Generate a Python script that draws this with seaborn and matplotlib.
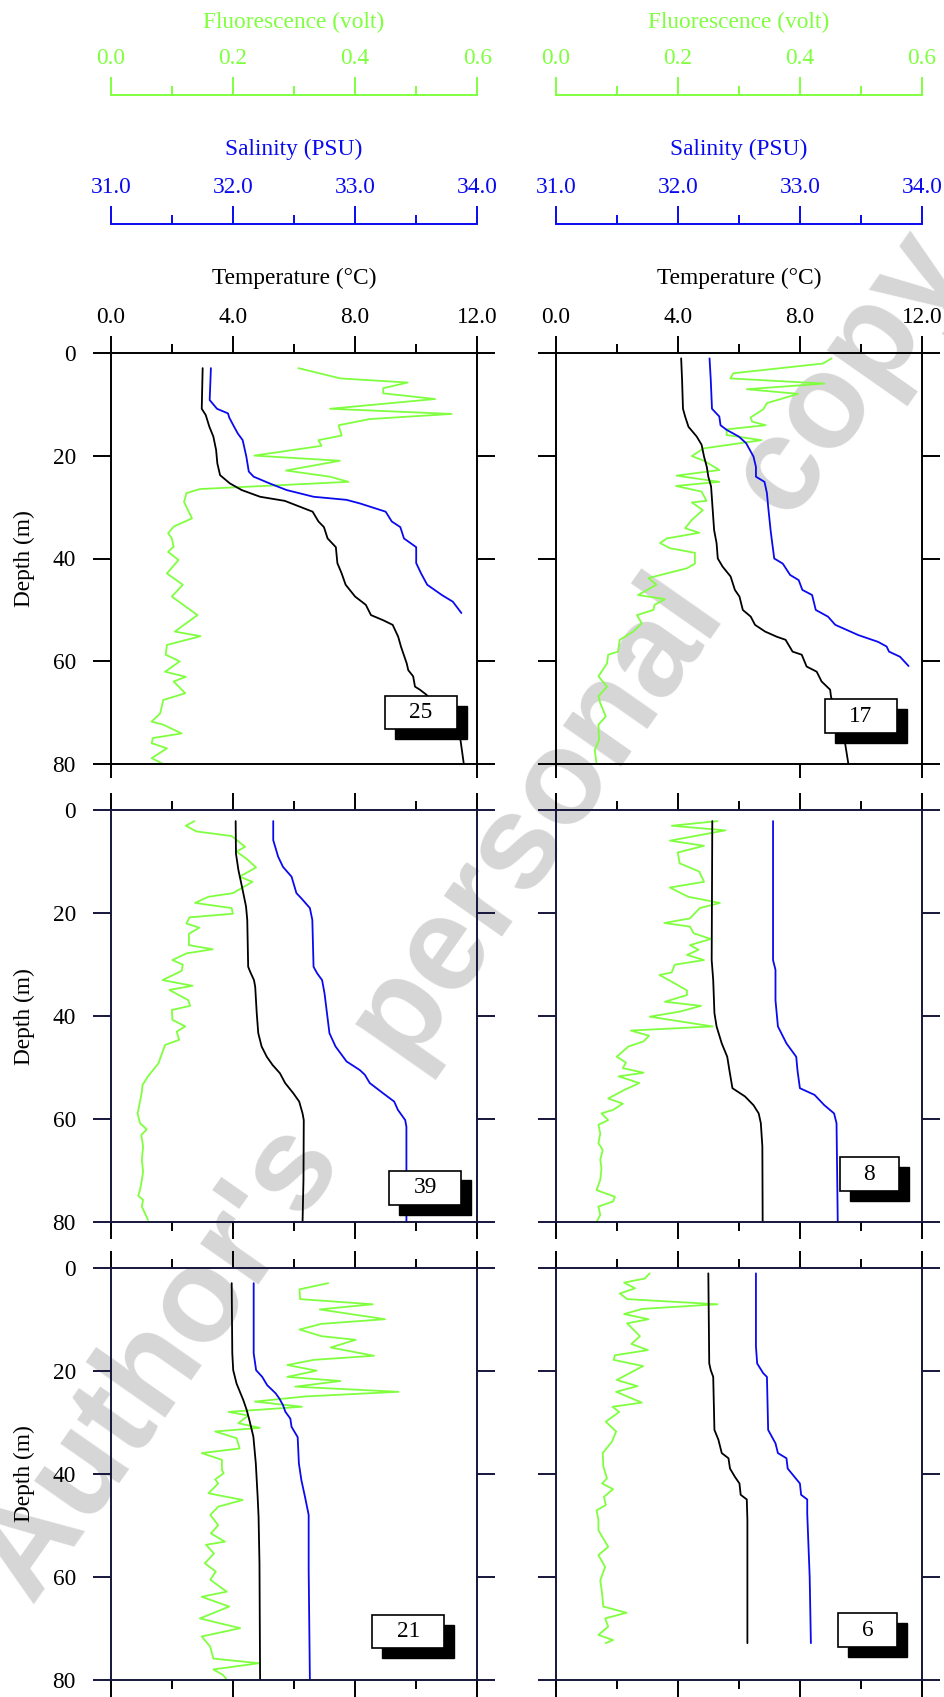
import matplotlib
matplotlib.use("Agg")
import matplotlib.pyplot as plt
import seaborn as sns
from matplotlib.patches import Rectangle

sns.set_theme(style="white")
plt.rcParams["font.family"] = ["Liberation Serif", "DejaVu Serif"]
plt.rcParams["text.color"] = "black"
plt.rcParams["axes.labelcolor"] = "black"
plt.rcParams["xtick.color"] = "black"
plt.rcParams["ytick.color"] = "black"

# ---------------- data ----------------
temp_ticks = [0.0, 4.0, 8.0, 12.0]
temp_ticklabels = ["0.0", "4.0", "8.0", "12.0"]
sal_ticks = [31.0, 32.0, 33.0, 34.0]
sal_ticklabels = ["31.0", "32.0", "33.0", "34.0"]
flu_ticks = [0.0, 0.2, 0.4, 0.6]
flu_ticklabels = ["0.0", "0.2", "0.4", "0.6"]
depth_ticks = [0, 20, 40, 60, 80]

# Station 25
s25_temp_depth = [3.0, 10.9, 12.1, 14.4, 16.3, 18.9, 21.5, 23.8, 25.4, 26.7, 28.0, 28.8, 30.9, 32.8, 33.9,
                  36.1, 37.8, 40.9, 42.9, 45.1, 47.4, 49.0, 51.0, 52.0, 52.9, 55.2, 57.1, 60.4, 61.7, 62.9,
                  64.9, 65.5, 66.5, 75.3, 80.0]
s25_temp = [3.01, 2.98, 3.11, 3.23, 3.36, 3.45, 3.49, 3.58, 3.90, 4.29, 4.89, 5.70, 6.61, 6.80, 6.98,
            7.10, 7.37, 7.42, 7.56, 7.69, 8.00, 8.35, 8.52, 8.92, 9.23, 9.41, 9.50, 9.69, 9.74, 9.90,
            9.96, 10.12, 10.34, 11.45, 11.56]
s25_sal_depth = [3.0, 9.2, 10.9, 11.8, 12.6, 14.4, 15.7, 17.0, 20.2, 23.1, 24.1, 25.4, 26.7, 28.0, 28.6,
                 29.3, 30.9, 32.8, 33.9, 36.1, 37.8, 40.9, 42.9, 45.1, 47.1, 48.4, 50.6]
s25_sal = [31.82, 31.81, 31.87, 31.96, 31.97, 32.01, 32.04, 32.08, 32.11, 32.13, 32.17, 32.30, 32.44, 32.66,
           32.93, 33.04, 33.25, 33.30, 33.37, 33.40, 33.50, 33.50, 33.54, 33.59, 33.71, 33.80, 33.87]
s25_flu_depth = [3.0, 5.0, 5.8, 6.9, 7.9, 9.0, 10.9, 11.9, 12.9, 14.1, 16.1, 17.0, 18.1, 20.0, 21.0, 22.9,
                 24.1, 25.1, 26.5, 27.3, 29.0, 32.2, 33.8, 35.1, 36.1, 37.7, 38.7, 40.3, 42.9, 45.1, 47.4,
                 51.0, 54.2, 55.1, 56.8, 58.7, 60.0, 62.0, 63.0, 63.9, 66.2, 67.5, 70.1, 71.7, 72.3, 74.0,
                 74.9, 75.9, 76.9, 78.8, 80.0]
s25_flu = [0.307, 0.376, 0.486, 0.446, 0.446, 0.531, 0.359, 0.558, 0.424, 0.373, 0.378, 0.340, 0.345, 0.235,
           0.375, 0.287, 0.359, 0.389, 0.146, 0.124, 0.120, 0.133, 0.103, 0.094, 0.100, 0.103, 0.094, 0.111,
           0.092, 0.118, 0.100, 0.142, 0.105, 0.147, 0.092, 0.090, 0.113, 0.089, 0.123, 0.103, 0.122, 0.086,
           0.081, 0.067, 0.086, 0.116, 0.069, 0.067, 0.092, 0.067, 0.087]

# Station 17
s17_temp_depth = [1.1, 5.3, 10.9, 12.4, 14.4, 16.3, 17.9, 20.2, 22.2, 24.1, 26.0, 34.5, 37.0, 40.0, 41.6,
                  43.5, 46.1, 47.4, 50.0, 51.3, 52.9, 54.2, 55.2, 55.8, 58.1, 58.7, 61.0, 62.0, 63.9, 65.5,
                  66.9, 75.9, 80.0]
s17_temp = [4.11, 4.14, 4.17, 4.24, 4.35, 4.62, 4.78, 4.86, 4.95, 5.00, 5.09, 5.19, 5.27, 5.31, 5.47,
            5.73, 5.87, 6.02, 6.13, 6.39, 6.53, 6.86, 7.24, 7.53, 7.76, 8.06, 8.22, 8.55, 8.71, 8.99,
            9.02, 9.48, 9.59]
s17_sal_depth = [1.1, 5.3, 10.9, 12.4, 14.1, 15.0, 16.3, 17.6, 20.2, 22.2, 24.1, 25.1, 27.3, 29.9, 34.5,
                 36.4, 40.0, 41.0, 43.2, 44.2, 46.1, 47.1, 50.0, 51.3, 52.9, 54.9, 56.2, 57.1, 58.1, 59.1,
                 60.9]
s17_sal = [32.26, 32.27, 32.28, 32.34, 32.35, 32.40, 32.50, 32.56, 32.62, 32.64, 32.64, 32.71, 32.73, 32.74,
           32.76, 32.77, 32.79, 32.86, 32.92, 32.99, 33.02, 33.10, 33.13, 33.23, 33.29, 33.48, 33.64, 33.71,
           33.73, 33.82, 33.89]
s17_flu_depth = [1.1, 2.1, 4.0, 5.0, 6.0, 7.1, 8.0, 9.8, 11.0, 12.6, 13.4, 14.1, 14.9, 16.0, 17.0, 18.6,
                 20.1, 21.0, 22.8, 23.9, 25.1, 25.9, 27.0, 28.8, 29.1, 30.6, 32.5, 34.1, 35.0, 36.1, 37.0,
                 38.0, 38.9, 41.0, 41.9, 43.8, 45.1, 47.1, 47.9, 49.0, 50.0, 51.0, 52.6, 54.2, 55.8, 58.1,
                 58.7, 60.4, 62.9, 64.9, 66.8, 68.1, 70.7, 72.3, 75.3, 77.2, 80.0]
s17_flu = [0.452, 0.438, 0.291, 0.286, 0.440, 0.313, 0.397, 0.346, 0.340, 0.319, 0.322, 0.344, 0.280, 0.280,
           0.337, 0.242, 0.223, 0.243, 0.268, 0.198, 0.268, 0.197, 0.239, 0.247, 0.223, 0.241, 0.223, 0.212,
           0.235, 0.182, 0.171, 0.187, 0.228, 0.228, 0.215, 0.152, 0.165, 0.135, 0.179, 0.162, 0.160, 0.133,
           0.141, 0.127, 0.105, 0.102, 0.086, 0.084, 0.070, 0.084, 0.070, 0.073, 0.082, 0.070, 0.071, 0.064,
           0.067]

# Station 39
s39_temp_depth = [2.1, 8.4, 11.6, 15.5, 18.7, 21.3, 30.4, 31.3, 33.0, 34.3, 39.4, 43.3, 45.9, 47.9, 49.5,
                  51.1, 53.0, 55.0, 56.6, 58.9, 60.2, 71.8, 80.0]
s39_temp = [4.09, 4.10, 4.18, 4.32, 4.43, 4.47, 4.50, 4.56, 4.69, 4.73, 4.78, 4.83, 4.94, 5.11, 5.30,
            5.54, 5.71, 5.98, 6.17, 6.28, 6.32, 6.31, 6.28]
s39_sal_depth = [2.1, 5.8, 9.0, 11.0, 12.9, 16.1, 17.1, 19.0, 21.3, 30.4, 31.7, 33.0, 35.6, 43.3, 45.9,
                 48.8, 50.5, 51.4, 53.0, 55.0, 56.6, 58.2, 60.2, 61.5, 80.0]
s39_sal = [32.33, 32.33, 32.37, 32.41, 32.48, 32.52, 32.56, 32.63, 32.65, 32.66, 32.69, 32.73, 32.75, 32.79,
           32.84, 32.93, 33.04, 33.08, 33.12, 33.23, 33.32, 33.35, 33.41, 33.42, 33.42]
s39_flu_depth = [2.1, 3.0, 4.1, 5.0, 7.1, 8.0, 9.6, 11.1, 12.9, 13.9, 16.1, 16.8, 18.0, 19.0, 20.1, 20.8,
                 22.0, 22.8, 24.0, 26.2, 27.0, 27.8, 29.1, 30.0, 31.2, 33.0, 34.1, 34.9, 36.9, 38.0, 38.8,
                 40.7, 42.0, 43.0, 44.6, 45.6, 46.9, 49.2, 51.7, 53.4, 54.7, 56.6, 58.9, 60.8, 62.0, 63.1,
                 65.3, 67.9, 70.2, 71.8, 73.8, 74.9, 75.7, 77.0, 78.3, 79.6]
s39_flu = [0.137, 0.123, 0.140, 0.198, 0.220, 0.206, 0.224, 0.238, 0.211, 0.232, 0.200, 0.160, 0.138, 0.198,
           0.200, 0.129, 0.124, 0.145, 0.128, 0.128, 0.167, 0.124, 0.101, 0.118, 0.116, 0.085, 0.134, 0.096,
           0.127, 0.130, 0.100, 0.101, 0.122, 0.108, 0.112, 0.089, 0.085, 0.078, 0.061, 0.052, 0.051, 0.048,
           0.044, 0.048, 0.059, 0.050, 0.053, 0.051, 0.053, 0.051, 0.048, 0.045, 0.053, 0.051, 0.056, 0.061]

# Station 8
s8_temp_depth = [2.1, 29.1, 33.0, 39.4, 42.0, 45.3, 47.9, 50.5, 54.0, 55.6, 57.3, 58.9, 60.8, 65.3, 80.0]
s8_temp = [5.13, 5.11, 5.16, 5.20, 5.27, 5.44, 5.62, 5.69, 5.79, 6.20, 6.48, 6.65, 6.72, 6.77, 6.78]
s8_sal_depth = [2.1, 29.1, 31.0, 36.9, 42.0, 45.3, 47.9, 50.5, 54.0, 55.3, 57.3, 58.9, 60.8, 80.0]
s8_sal = [32.78, 32.78, 32.80, 32.80, 32.82, 32.89, 32.97, 32.98, 33.00, 33.12, 33.20, 33.28, 33.30, 33.31]
s8_flu_depth = [2.1, 3.0, 3.9, 5.9, 6.9, 8.2, 10.3, 11.9, 13.9, 15.0, 16.8, 18.0, 19.0, 21.0, 21.9, 22.6,
                23.9, 25.0, 26.2, 27.1, 28.1, 29.1, 30.0, 31.5, 32.0, 33.5, 35.0, 35.9, 37.2, 38.0, 39.1,
                40.1, 42.0, 42.8, 43.8, 44.9, 45.9, 47.9, 49.0, 50.1, 51.0, 51.7, 53.0, 54.3, 56.0, 57.0,
                58.2, 58.9, 60.2, 61.1, 62.8, 64.7, 66.0, 67.9, 69.6, 71.8, 73.8, 75.1, 76.0, 77.0, 78.6,
                80.0]
s8_flu = [0.265, 0.190, 0.278, 0.187, 0.243, 0.200, 0.203, 0.235, 0.243, 0.187, 0.217, 0.269, 0.236, 0.220,
          0.178, 0.220, 0.226, 0.254, 0.220, 0.234, 0.215, 0.243, 0.195, 0.190, 0.170, 0.193, 0.215, 0.215,
          0.179, 0.238, 0.204, 0.154, 0.257, 0.123, 0.153, 0.144, 0.119, 0.100, 0.115, 0.110, 0.144, 0.103,
          0.137, 0.113, 0.086, 0.110, 0.094, 0.075, 0.086, 0.070, 0.073, 0.070, 0.077, 0.073, 0.075, 0.073,
          0.067, 0.097, 0.094, 0.070, 0.073, 0.067]

# Station 21
s21_temp_depth = [3.0, 16.6, 19.9, 22.5, 24.4, 25.7, 27.6, 29.6, 32.8, 38.0, 44.5, 48.3, 57.4, 80.0]
s21_temp = [3.96, 3.98, 4.01, 4.12, 4.25, 4.34, 4.45, 4.54, 4.67, 4.75, 4.81, 4.84, 4.87, 4.89]
s21_sal_depth = [3.0, 16.6, 19.9, 21.2, 22.8, 24.4, 25.4, 26.7, 28.0, 29.3, 30.9, 32.9, 38.0, 41.2, 44.5,
                 48.0, 58.7, 80.0]
s21_sal = [32.17, 32.17, 32.19, 32.24, 32.28, 32.35, 32.38, 32.41, 32.43, 32.47, 32.48, 32.53, 32.54, 32.56,
           32.59, 32.62, 32.62, 32.63]
s21_flu_depth = [3.0, 4.2, 6.1, 7.1, 8.1, 10.0, 10.9, 12.0, 13.3, 14.0, 15.5, 17.1, 17.9, 18.9, 20.0, 21.2,
                 22.0, 23.1, 24.1, 25.0, 26.0, 27.0, 28.0, 28.7, 30.2, 31.1, 31.8, 33.1, 35.1, 36.0, 37.3,
                 39.3, 39.9, 41.1, 41.9, 43.8, 45.1, 46.4, 48.0, 50.0, 51.6, 53.2, 53.8, 55.5, 57.4, 59.0,
                 60.6, 62.9, 63.9, 65.8, 68.1, 70.0, 71.6, 73.6, 75.9, 76.8, 78.0, 79.1, 80.0]
s21_flu = [0.356, 0.309, 0.310, 0.429, 0.342, 0.449, 0.345, 0.309, 0.345, 0.401, 0.360, 0.431, 0.332, 0.289,
           0.337, 0.289, 0.376, 0.302, 0.471, 0.318, 0.236, 0.313, 0.193, 0.225, 0.209, 0.244, 0.171, 0.206,
           0.211, 0.149, 0.182, 0.182, 0.185, 0.171, 0.176, 0.160, 0.216, 0.176, 0.163, 0.176, 0.164, 0.187,
           0.156, 0.169, 0.154, 0.172, 0.163, 0.190, 0.149, 0.194, 0.146, 0.212, 0.149, 0.163, 0.168, 0.243,
           0.168, 0.184, 0.190]

# Station 6
s6_temp_depth = [1.1, 18.6, 19.9, 21.2, 31.5, 33.4, 36.0, 37.0, 39.0, 40.6, 41.9, 44.1, 45.0, 49.0, 72.9]
s6_temp = [5.00, 5.03, 5.08, 5.16, 5.20, 5.33, 5.44, 5.66, 5.71, 5.87, 6.02, 6.06, 6.26, 6.28, 6.28]
s6_sal_depth = [1.1, 15.3, 18.6, 20.5, 21.2, 31.5, 34.1, 36.0, 37.0, 39.0, 41.9, 44.1, 45.0, 47.7, 60.0, 72.9]
s6_sal = [32.64, 32.64, 32.65, 32.70, 32.73, 32.74, 32.80, 32.82, 32.89, 32.90, 33.00, 33.01, 33.06, 33.06,
          33.08, 33.09]
s6_flu_depth = [1.1, 2.1, 2.9, 4.0, 5.0, 6.1, 7.1, 8.0, 9.0, 10.0, 10.8, 13.3, 14.8, 16.0, 17.0, 17.9, 19.1,
                21.8, 23.0, 24.1, 26.2, 27.0, 28.0, 29.9, 31.8, 33.8, 36.0, 38.6, 40.9, 41.9, 43.0, 44.5,
                46.1, 47.1, 49.0, 51.0, 54.2, 55.8, 58.1, 60.7, 63.2, 65.8, 67.0, 68.1, 69.7, 71.3, 72.3, 72.9]
s6_flu = [0.154, 0.146, 0.112, 0.130, 0.105, 0.117, 0.265, 0.142, 0.112, 0.152, 0.117, 0.138, 0.124, 0.151,
          0.097, 0.095, 0.143, 0.100, 0.134, 0.099, 0.141, 0.093, 0.104, 0.082, 0.099, 0.092, 0.077, 0.078,
          0.084, 0.076, 0.094, 0.079, 0.082, 0.067, 0.070, 0.070, 0.086, 0.070, 0.081, 0.073, 0.076, 0.078,
          0.116, 0.081, 0.086, 0.070, 0.094, 0.082]

station_labels = [["25", "17"], ["39", "8"], ["21", "6"]]
profiles = {
    "25": (s25_temp_depth, s25_temp, s25_sal_depth, s25_sal, s25_flu_depth, s25_flu),
    "17": (s17_temp_depth, s17_temp, s17_sal_depth, s17_sal, s17_flu_depth, s17_flu),
    "39": (s39_temp_depth, s39_temp, s39_sal_depth, s39_sal, s39_flu_depth, s39_flu),
    "8": (s8_temp_depth, s8_temp, s8_sal_depth, s8_sal, s8_flu_depth, s8_flu),
    "21": (s21_temp_depth, s21_temp, s21_sal_depth, s21_sal, s21_flu_depth, s21_flu),
    "6": (s6_temp_depth, s6_temp, s6_sal_depth, s6_sal, s6_flu_depth, s6_flu),
}

# ---------------- layout / style ----------------
W, H = 944, 1697
GREEN = "#80ff40"
BLUE = "#0a0aee"
NAVY = "#16163c"
FS = 16.8
LW_AX = 1.4

def fx(px):
    return px / W

def fy(py):
    return 1 - py / H

cols = [(110.7, 477.3), (555.7, 922.0)]
rows = [(352.7, 764.3), (810.3, 1222.0), (1267.7, 1679.7)]
box_pos = {"25": (0.748, 0.085, 0.197, 0.081), "17": (0.735, 0.076, 0.197, 0.082),
           "39": (0.759, 0.041, 0.197, 0.084), "8": (0.776, 0.075, 0.161, 0.083),
           "21": (0.713, 0.077, 0.197, 0.080), "6": (0.771, 0.079, 0.161, 0.083)}

fig = plt.figure(figsize=(W / 100, H / 100), dpi=100)
fig.patch.set_facecolor("white")

# watermark (behind everything); words are widely spaced in the original
fig.text(0.501, 0.4585, "Author's   personal   copy", rotation=55, rotation_mode="anchor",
         ha="center", va="center", fontsize=96, fontweight="bold", color="#d6d6d6",
         family=["Liberation Sans", "DejaVu Sans"], zorder=-5)


def float_axis(col, y_line_px, lim, majors, labels, minors, color, title, lpad):
    x0, x1 = cols[col]
    a = fig.add_axes([fx(x0), fy(y_line_px) - 0.002, fx(x1) - fx(x0), 0.002])
    a.set_facecolor("none")
    for s in ["left", "right", "bottom"]:
        a.spines[s].set_visible(False)
    a.spines["top"].set_color(color)
    a.spines["top"].set_linewidth(LW_AX)
    a.set_xlim(lim)
    a.set_yticks([])
    a.xaxis.tick_top()
    a.xaxis.set_label_position("top")
    a.set_xticks(majors)
    a.set_xticklabels(labels)
    a.set_xticks(minors, minor=True)
    a.tick_params(axis="x", which="major", top=True, bottom=False, direction="out", length=13,
                  width=LW_AX, color=color, labelcolor=color, labelsize=FS, pad=5.4)
    a.tick_params(axis="x", which="minor", top=True, bottom=False, direction="out", length=6.5,
                  width=LW_AX, color=color)
    a.set_xlabel(title, color=color, fontsize=FS, labelpad=lpad)
    return a


for c in range(2):
    float_axis(c, 95.0, (0.0, 0.6), flu_ticks, flu_ticklabels, [0.1, 0.3, 0.5], GREEN,
               "Fluorescence (volt)", 15.0)
    float_axis(c, 224.0, (31.0, 34.0), sal_ticks, sal_ticklabels, [31.5, 32.5, 33.5], BLUE,
               "Salinity (PSU)", 16.5)

for r in range(3):
    for c in range(2):
        x0, x1 = cols[c]
        yt, yb = rows[r]
        ax = fig.add_axes([fx(x0), fy(yb), fx(x1) - fx(x0), fy(yt) - fy(yb)])
        ax.set_facecolor("none")
        ax_s = ax.twiny()
        ax_f = ax.twiny()
        st = station_labels[r][c]
        td, tv, sd, sv, fd, fv = profiles[st]

        sns.lineplot(x=fv, y=fd, ax=ax_f, sort=False, estimator=None, color=GREEN, linewidth=1.3)
        sns.lineplot(x=sv, y=sd, ax=ax_s, sort=False, estimator=None, color=BLUE, linewidth=1.3)
        sns.lineplot(x=tv, y=td, ax=ax, sort=False, estimator=None, color="black", linewidth=1.3)

        for a, lim in ((ax, (0, 12)), (ax_s, (31, 34)), (ax_f, (0, 0.6))):
            a.set_xlim(lim)
            a.set_ylim(80, 0)
        ax_s.axis("off")
        ax_f.axis("off")

        frame_col = "black" if r == 0 else NAVY
        for s in ax.spines.values():
            s.set_visible(True)
            s.set_linewidth(LW_AX)
            s.set_color(frame_col)

        ax.set_xticks(temp_ticks)
        ax.set_xticks([2, 6, 10], minor=True)
        ax.set_yticks(depth_ticks)
        ax.xaxis.set_ticks_position("both" if r > 0 else "top")
        ax.tick_params(axis="x", which="major", direction="out", length=12.5, width=LW_AX,
                       top=True, bottom=(r > 0), labeltop=(r == 0), labelbottom=False,
                       labelsize=FS, pad=5.4, color="black")
        ax.tick_params(axis="x", which="minor", direction="out", length=6.5, width=LW_AX,
                       top=True, bottom=(r > 0), color="black")
        if r == 0:
            ax.set_xticklabels(temp_ticklabels)
            ax.xaxis.set_label_position("top")
            ax.set_xlabel("Temperature (°C)", fontsize=FS, labelpad=16.5)
            sec = ax.secondary_xaxis("bottom")
            sec.set_xticks([0, 12] if c == 0 else [0, 8, 12])
            sec.tick_params(axis="x", direction="out", length=10, width=LW_AX,
                            labelbottom=False, color="black")
            sec.spines["bottom"].set_visible(False)
        else:
            ax.set_xlabel("")

        ax.tick_params(axis="y", which="major", direction="out", length=13, width=LW_AX,
                       left=True, right=True, labelleft=(c == 0), labelright=False,
                       labelsize=FS, pad=12, color=frame_col)
        ax.tick_params(axis="y", which="minor", left=False, right=False)
        if c == 0:
            ax.set_ylabel("Depth (m)", fontsize=FS, labelpad=13)
        else:
            ax.set_ylabel("")

        bx, by, bw, bh = box_pos[st]
        ax.add_patch(Rectangle((bx + 0.027, by - 0.024), bw, bh, transform=ax.transAxes,
                               facecolor="black", edgecolor="black", zorder=20, clip_on=False))
        ax.add_patch(Rectangle((bx, by), bw, bh, transform=ax.transAxes, facecolor="white",
                               edgecolor="black", linewidth=1.2, zorder=21, clip_on=False))
        ax.text(bx + bw / 2, by + bh / 2, st, transform=ax.transAxes, ha="center", va="center",
                fontsize=FS, zorder=22)
        ax.set_zorder(ax_f.get_zorder() + 2)
        ax_s.set_zorder(ax_f.get_zorder() + 1)

fig.savefig("out.png", dpi=100)
